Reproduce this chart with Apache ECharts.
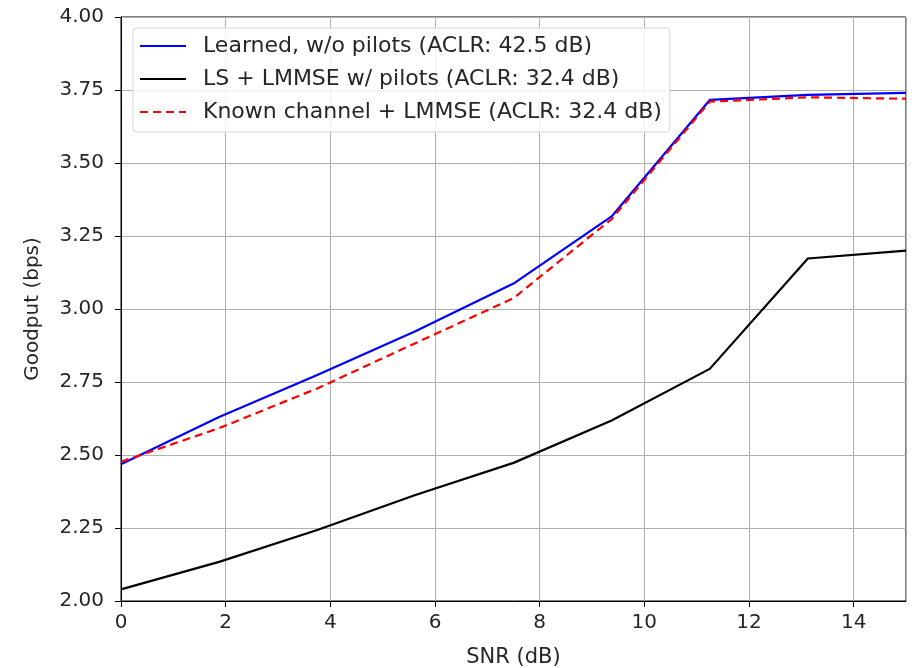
<!DOCTYPE html>
<html>
<head>
<meta charset="utf-8">
<script src="https://cdn.jsdelivr.net/npm/echarts@6/dist/echarts.min.js"></script>
<style>
  html, body { margin: 0; padding: 0; background: #fff; }
  #chart { width: 920px; height: 668px; }
</style>
</head>
<body>
<div id="chart"></div>
<script>
// SNR sweep points (dB)
const snr = [0, 1.875, 3.75, 5.625, 7.5, 9.375, 11.25, 13.125, 15];

// Goodput (bps) per receiver
const learnedNoPilots = [2.468, 2.630, 2.774, 2.924, 3.087, 3.317, 3.716, 3.733, 3.740];
const lsLmmsePilots   = [2.040, 2.134, 2.243, 2.363, 2.473, 2.618, 2.795, 3.173, 3.200];
const knownChannel    = [2.477, 2.592, 2.728, 2.883, 3.037, 3.308, 3.710, 3.725, 3.720];

const seriesNames = [
  'Learned, w/o pilots (ACLR: 42.5 dB)',
  'LS + LMMSE w/ pilots (ACLR: 32.4 dB)',
  'Known channel + LMMSE (ACLR: 32.4 dB)'
];

const yTicks = ['2.00', '2.25', '2.50', '2.75', '3.00', '3.25', '3.50', '3.75', '4.00'];

const pairs = (xs, ys) => xs.map((x, i) => [x, ys[i]]);

const font = 'DejaVu Sans';
const textColor = '#262626';
const chart = echarts.init(document.getElementById('chart'));

chart.setOption({
  animation: false,
  backgroundColor: '#fff',
  textStyle: { fontFamily: font },
  grid: {
    left: 121, right: 14, top: 17, bottom: 67,
    outerBoundsMode: 'none', containLabel: false,
    show: true, borderColor: '#000', borderWidth: 1
  },
  legend: {
    orient: 'vertical',
    left: 133, top: 28,
    padding: [6, 8, 8, 6],
    itemWidth: 46, itemHeight: 14, itemGap: 9,
    backgroundColor: 'rgba(255,255,255,0.85)',
    borderColor: '#d6d6d6', borderWidth: 1, borderRadius: 4,
    itemStyle: { opacity: 0, borderWidth: 0 },
    textStyle: { fontFamily: font, fontSize: 22, color: textColor, lineHeight: 24, padding: [0, 0, 0, 12] },
    data: seriesNames
  },
  xAxis: {
    type: 'value', min: 0, max: 15, interval: 2,
    name: 'SNR (dB)', nameLocation: 'middle', nameGap: 46,
    nameTextStyle: { fontFamily: font, fontSize: 21, color: textColor },
    axisLine: { show: true, lineStyle: { color: '#000', width: 1 } },
    axisTick: { show: true, length: 6, lineStyle: { color: '#000' } },
    axisLabel: { fontFamily: font, fontSize: 20, color: textColor, margin: 12, showMaxLabel: false },
    splitLine: { show: true, lineStyle: { color: '#b0b0b0', width: 1 } }
  },
  yAxis: {
    type: 'value', min: 2, max: 4, interval: 0.25,
    name: 'Goodput (bps)', nameLocation: 'middle', nameGap: 78, nameRotate: 90,
    nameTextStyle: { fontFamily: font, fontSize: 20, color: textColor },
    axisLine: { show: true, lineStyle: { color: '#000', width: 1 } },
    axisTick: { show: true, length: 6, lineStyle: { color: '#000' } },
    axisLabel: {
      fontFamily: font, fontSize: 20, color: textColor, margin: 17,
      formatter: v => yTicks[Math.round((v - 2) / 0.25)] ?? v.toFixed(2)
    },
    splitLine: { show: true, lineStyle: { color: '#b0b0b0', width: 1 } }
  },
  series: [
    {
      name: seriesNames[0], type: 'line', symbol: 'none',
      data: pairs(snr, learnedNoPilots),
      lineStyle: { color: '#0000ff', width: 2.2 }, itemStyle: { color: '#0000ff' }
    },
    {
      name: seriesNames[1], type: 'line', symbol: 'none',
      data: pairs(snr, lsLmmsePilots),
      lineStyle: { color: '#000000', width: 2.2 }, itemStyle: { color: '#000000' }
    },
    {
      name: seriesNames[2], type: 'line', symbol: 'none',
      data: pairs(snr, knownChannel),
      lineStyle: { color: '#ff0000', width: 2.2, type: [8, 5] }, itemStyle: { color: '#ff0000' }
    }
  ]
});
</script>
</body>
</html>
